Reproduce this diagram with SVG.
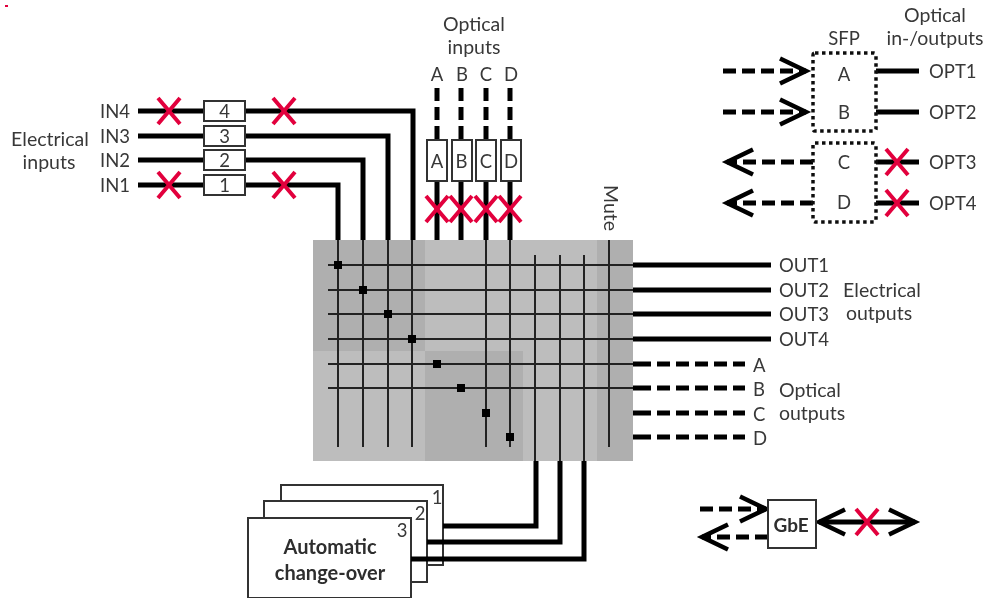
<svg xmlns="http://www.w3.org/2000/svg" width="986" height="598" viewBox="0 0 986 598">
<defs>
<marker id="head" markerUnits="userSpaceOnUse" markerWidth="40" markerHeight="40" viewBox="-32 -20 40 40" refX="0" refY="0" orient="auto-start-reverse"><path d="M-26-12.500 0 0-26 12.500" fill="none" stroke="#000" stroke-width="4.500"/></marker>
<filter id="soft" x="0" y="0" width="100%" height="100%"><feGaussianBlur stdDeviation="0.6"/></filter>
<g id="x"><path d="M-11-13 11 13M11-13-11 13" fill="none" stroke="#e2003c" stroke-width="4"/></g>
</defs>
<style>
text{font-family:Lato,"Open Sans","Liberation Sans",sans-serif;font-size:18.500px;fill:#383838;dominant-baseline:central}
.l{font-size:19.500px}
.m{text-anchor:middle}
.b{font-weight:700;fill:#2e2e2e;font-size:20px}
.k{fill:none;stroke:#000;stroke-width:5}
.d{stroke-dasharray:13 6}
.t{fill:none;stroke:#222;stroke-width:2}
.box{fill:#fff;stroke:#333;stroke-width:2}
.dot{fill:#fff;stroke:#111;stroke-width:3.500;stroke-dasharray:3.500 3.500}
.n{fill:#000}
</style>
<rect width="986" height="598" fill="#fff"/>
<g filter="url(#soft)">
<rect x="5" y="5" width="3" height="2" fill="#e2003c"/>
<g id="matrix">
<rect x="313" y="240" width="320" height="221" fill="#bdbdbd"/>
<rect x="313" y="240" width="112" height="111" fill="#afafaf"/>
<rect x="425" y="351" width="98" height="110" fill="#afafaf"/>
<rect x="597" y="240" width="36" height="221" fill="#afafaf"/>
</g>
<g id="changeover1"><rect class="box" x="281" y="485" width="162" height="80"/><text class="m" x="437" y="497">1</text></g>
<g id="changeover2"><rect class="box" x="264" y="501" width="163" height="81"/><text class="m" x="420" y="513">2</text></g>
<g id="changeover3"><rect class="box" x="248" y="518" width="163" height="80"/><text class="m" x="402" y="530">3</text><text class="m b" x="330" y="546">Automatic</text><text class="m b" x="330" y="572">change-over</text></g>
<g id="connectors">
<path class="k" d="M138 111H413V240M138 136H388V240M138 160H363V240M138 185H338V240"/>
<path class="k d" d="M437 88V140M461 88V140M486 88V140M510 88V140"/>
<path class="k" d="M437 181V240M461 181V240M486 181V240M510 181V240"/>
<path class="t" d="M338 240V447M363 240V447M388 240V447M412 240V447M486 240V447M510 240V447M609 240V447M535 255V461M560 255V461M584 255V461"/>
<path class="t" d="M328 265H633M328 290H633M328 314H633M328 339H633M328 364H633M328 388H633"/>
<path class="k" d="M633 265H771M633 290H771M633 314H771M633 339H771"/>
<path class="k" d="M633 364H638M633 388H638M633 413H638M633 437H638"/>
<path class="k d" d="M638 364H745M638 388H745M638 413H745M638 437H745"/>
<path class="k" d="M443 526H536V461M427 542H560V461M411 559H584V461"/>
<path class="k d" d="M723 71H806" marker-end="url(#head)"/>
<path class="k d" d="M723 112H806" marker-end="url(#head)"/>
<path class="k d" d="M813 162H727" marker-end="url(#head)"/>
<path class="k d" d="M813 203H727" marker-end="url(#head)"/>
<path class="k" d="M876 71H919M876 112H919M876 162H919M876 203H919"/>
<path class="k d" d="M700 509H766" marker-end="url(#head)"/>
<path class="k d" d="M768 537H702" marker-end="url(#head)"/>
<path class="k" d="M819 522H915" marker-start="url(#head)" marker-end="url(#head)"/>
</g>
<g id="junctions" class="n">
<rect x="334" y="261" width="8" height="8"/><rect x="359" y="286" width="8" height="8"/><rect x="384" y="310" width="8" height="8"/><rect x="408" y="335" width="8" height="8"/><rect x="433" y="360" width="8" height="8"/><rect x="457" y="384" width="8" height="8"/><rect x="482" y="409" width="8" height="8"/><rect x="506" y="433" width="8" height="8"/>
</g>
<g id="in4"><rect class="box" x="204" y="101" width="41" height="20"/><text class="m" x="224.500" y="111">4</text></g>
<g id="in3"><rect class="box" x="204" y="126" width="41" height="20"/><text class="m" x="224.500" y="136">3</text></g>
<g id="in2"><rect class="box" x="204" y="150" width="41" height="20"/><text class="m" x="224.500" y="160">2</text></g>
<g id="in1"><rect class="box" x="204" y="175" width="41" height="20"/><text class="m" x="224.500" y="185">1</text></g>
<g id="optA"><rect class="box" x="427" y="140" width="20" height="41"/><text class="m" x="437" y="161">A</text></g>
<g id="optB"><rect class="box" x="452" y="140" width="20" height="41"/><text class="m" x="461.500" y="161">B</text></g>
<g id="optC"><rect class="box" x="476" y="140" width="20" height="41"/><text class="m" x="486" y="161">C</text></g>
<g id="optD"><rect class="box" x="501" y="140" width="20" height="41"/><text class="m" x="511" y="161">D</text></g>
<g id="sfp1"><rect class="dot" x="813" y="53" width="63" height="78" rx="2"/><text class="m" x="844" y="74">A</text><text class="m" x="844" y="112">B</text></g>
<g id="sfp2"><rect class="dot" x="813" y="143" width="63" height="79" rx="2"/><text class="m" x="844" y="162">C</text><text class="m" x="844" y="202">D</text></g>
<g id="gbe"><rect class="box" x="768" y="500" width="48" height="48"/><text class="m b" x="791" y="524" style="font-size:19px">GbE</text></g>
<g id="crosses">
<use href="#x" x="169" y="111"/><use href="#x" x="284" y="111"/><use href="#x" x="169" y="185"/><use href="#x" x="284" y="185"/>
<use href="#x" x="437" y="209"/><use href="#x" x="461" y="209"/><use href="#x" x="486" y="209"/><use href="#x" x="510" y="209"/>
<use href="#x" x="897" y="162"/><use href="#x" x="897" y="203"/><use href="#x" x="867" y="522"/>
</g>
<g id="labels">
<text x="100" y="111">IN4</text><text x="100" y="136">IN3</text><text x="100" y="160">IN2</text><text x="100" y="185">IN1</text>
<text class="m l" x="50" y="138">Electrical</text><text class="m l" x="49" y="161">inputs</text>
<text class="m l" x="474" y="23">Optical</text><text class="m l" x="474" y="46">inputs</text>
<text class="m" x="437" y="74">A</text><text class="m" x="462" y="74">B</text><text class="m" x="486" y="74">C</text><text class="m" x="511" y="74">D</text>
<text class="m" x="844" y="38">SFP</text>
<text class="m l" x="935" y="14">Optical</text><text class="m l" x="935" y="37">in-/outputs</text>
<text x="929" y="71">OPT1</text><text x="929" y="112">OPT2</text><text x="929" y="162">OPT3</text><text x="929" y="203">OPT4</text>
<text class="m l" transform="translate(611 208) rotate(90)">Mute</text>
<text x="779" y="265">OUT1</text><text x="779" y="290">OUT2</text><text x="779" y="314">OUT3</text><text x="779" y="339">OUT4</text>
<text class="m l" x="882" y="289">Electrical</text><text class="m l" x="879" y="312">outputs</text>
<text x="753" y="365">A</text><text x="753" y="389">B</text><text x="753" y="414">C</text><text x="753" y="438">D</text>
<text class="m l" x="810" y="389">Optical</text><text class="m l" x="812" y="412">outputs</text>
</g>
</g>
</svg>
